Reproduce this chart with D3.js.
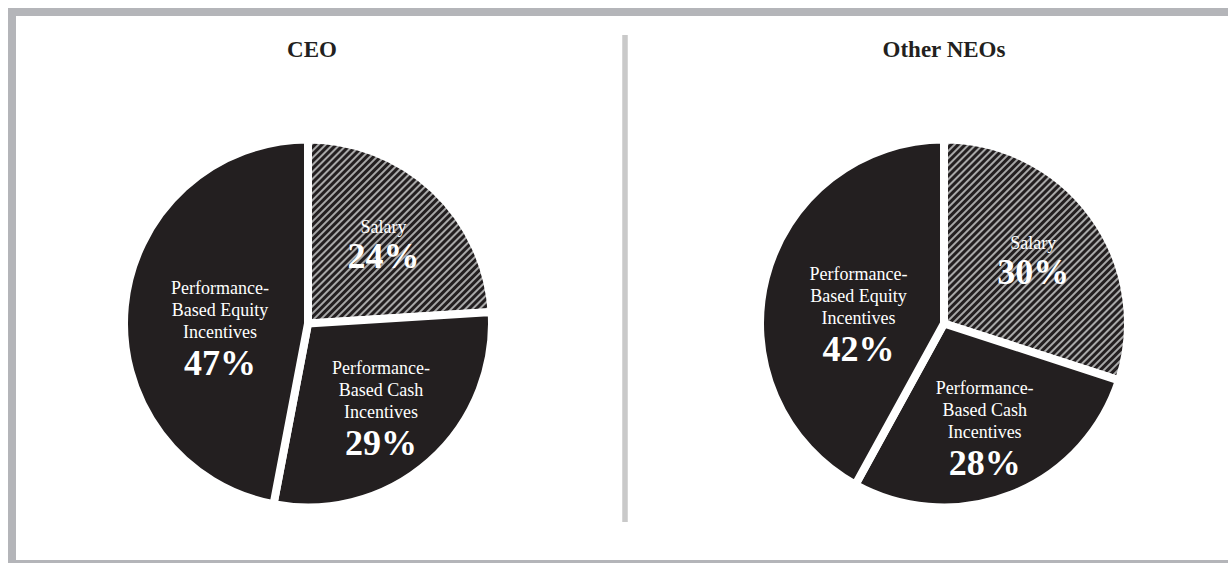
<!DOCTYPE html>
<html>
<head>
<meta charset="utf-8">
<script src="https://cdn.jsdelivr.net/npm/d3@7"></script>
<style>
  body { margin: 0; background: #fff; }
  svg { display: block; }
  text { font-family: "Liberation Serif", "Times New Roman", serif; }
</style>
</head>
<body>
<svg class="chart"></svg>
<script>
// data
var groups = ["CEO", "Other NEOs"];
var categories = ["Salary", "Performance-Based Cash Incentives", "Performance-Based Equity Incentives"];
var labelLines = [["Salary"], ["Performance-", "Based Cash", "Incentives"], ["Performance-", "Based Equity", "Incentives"]];
var ceoValues = [24, 29, 47];
var neoValues = [30, 28, 42];

var W = 1228, H = 563;
var r = 184; // stroke eats 4px of it
var svg = d3.select('.chart').attr('width', W).attr('height', H);

// hatch for salary
var defs = svg.append('defs');
var pat = defs.append('pattern').attr('id', 'hatch')
  .attr('patternUnits', 'userSpaceOnUse')
  .attr('width', 5).attr('height', 5)
  .attr('patternTransform', 'rotate(45)');
pat.append('rect').attr('width', 5).attr('height', 5).attr('fill', '#231f20');
pat.append('rect').attr('width', 2).attr('height', 5).attr('fill', '#a8a8a8');

// frame + divider
svg.append('rect').attr('x', 12).attr('y', 12).attr('width', 1240).attr('height', 552)
  .attr('fill', 'none').attr('stroke', '#b4b5b9').attr('stroke-width', 8);
svg.append('line').attr('x1', 625).attr('x2', 625).attr('y1', 35).attr('y2', 522)
  .attr('stroke', '#c9c9c9').attr('stroke-width', 5.5);

var x = d3.scalePoint().domain(groups).range([308, 944]);
var cy = 323.5;

var pie = d3.pie().sort(null).value(function(d) { return d; });
var arc = d3.arc().innerRadius(0).outerRadius(r);

var fills = ['url(#hatch)', '#231f20', '#231f20'];

function drawPie(name, values) {
  var g = svg.append('g').attr('transform', 'translate(' + x(name) + ',' + cy + ')');

  svg.append('text').attr('x', x(name) + (name == 'CEO' ? 4 : 0)).attr('y', 57)
    .attr('text-anchor', 'middle').attr('font-size', 23).attr('font-weight', 'bold')
    .attr('fill', '#231f20').text(name);

  var arcs = pie(values);
  g.selectAll('path').data(arcs).enter().append('path')
    .attr('d', arc)
    .attr('fill', function(d, i) { return fills[i]; })
    .attr('stroke', '#fff').attr('stroke-width', 8).attr('stroke-linejoin', 'miter');

  // labels, bigger slice sits closer in and a little lower
  var lab = g.selectAll('g.lab').data(arcs).enter().append('g').attr('class', 'lab')
    .attr('transform', function(d) {
      var big = d.value > 40;
      var lr = big ? 0.48 * r : 0.6 * r;
      var c = d3.arc().innerRadius(lr).outerRadius(lr).centroid(d);
      return 'translate(' + c[0] + ',' + (c[1] + (big ? 12 : 1)) + ')';
    });

  lab.each(function(d, i) {
    var lines = labelLines[i];
    var el = d3.select(this);
    var top = lines.length > 1 ? -33.5 : -11;
    lines.forEach(function(t, k) {
      el.append('text').attr('y', top + k * 22).attr('text-anchor', 'middle')
        .attr('font-size', 18).attr('fill', '#fff').text(t);
    });
    el.append('text').attr('y', top + (lines.length - 1) * 22 + (lines.length > 1 ? 37 : 35))
      .attr('text-anchor', 'middle').attr('font-size', 36).attr('font-weight', 'bold')
      .attr('fill', '#fff').text(d.value + '%');
  });
}

drawPie(groups[0], ceoValues);
drawPie(groups[1], neoValues);
</script>
</body>
</html>
